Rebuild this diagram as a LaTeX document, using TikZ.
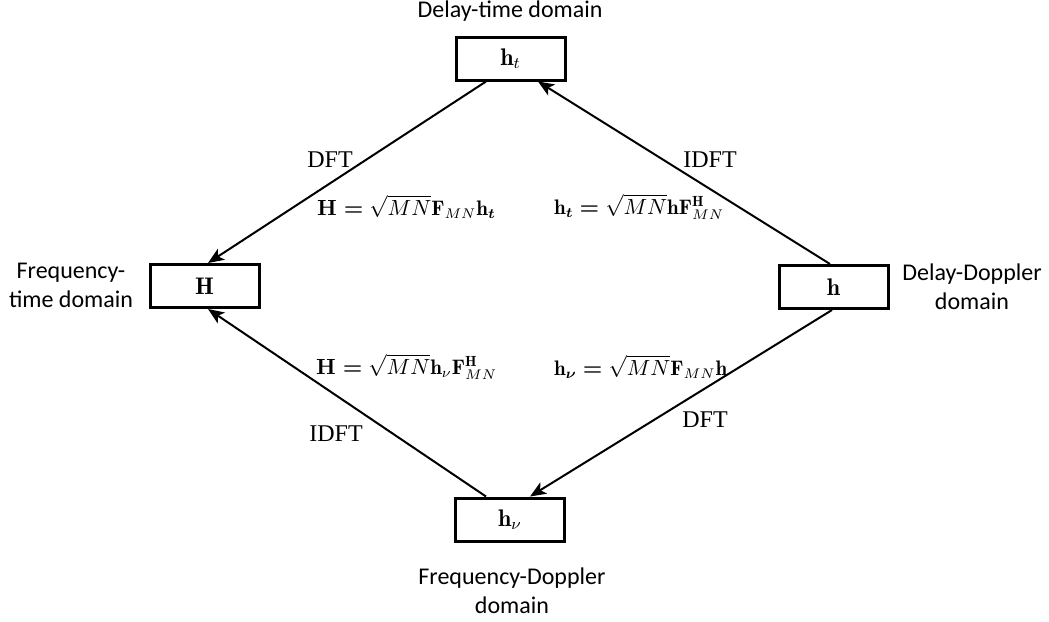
\documentclass[tikz,border=0pt]{standalone}
\usepackage{amsmath}
\usepackage{fontspec}
\setsansfont{Carlito}
\newfontfamily\labelserif{Liberation Serif}
\usetikzlibrary{arrows.meta,calc}

\begin{document}
\begin{tikzpicture}[x=0.5pt,y=-0.5pt,
  domainbox/.style={draw,line width=1.5pt,minimum width=54.5pt,minimum height=21.5pt,
    inner sep=0pt,font=\fontsize{12}{14}\selectfont},
  domainlabel/.style={font=\sffamily\fontsize{12}{14.5}\selectfont,align=center},
  transformlabel/.style={font=\labelserif\fontsize{12}{14}\selectfont},
  relation/.style={anchor=west,font=\fontsize{10.5}{13}\selectfont},
  transfer/.style={line width=1pt,-{Stealth[length=8pt,width=6.5pt,inset=2pt]}}]

\useasboundingbox (0,0) rectangle (1049,621);

% the four domain boxes
\node[domainbox] (ht) at (510.5,58.5) {$\mathbf{h}_t$};
\node[domainbox] (H)  at (204.5,286) {$\mathbf{H}$};
\node[domainbox] (h)  at (833.5,287) {$\mathbf{h}$};
\node[domainbox] (hv) at (510,519.5) {$\mathbf{h}_\nu$};

% domain names
\node[domainlabel] (ltop)    at (510,11)  {Delay-time domain};
\node[domainlabel] (lleft)   at (71,285)  {Frequency-\\time domain};
\node[domainlabel] (lright)  at (972,287) {Delay-Doppler\\domain};
\node[domainlabel] (lbottom) at (512,591) {Frequency-Doppler\\domain};

% transforms between the domains
\draw[transfer] ($(ht.south)+(-24.5,0)$) -- ($(H.north)+(3.5,0)$);
\draw[transfer] ($(h.north)+(-3.5,0)$) -- ($(ht.south)+(27.5,0)$);
\draw[transfer] ($(h.south)+(-1.5,0)$) -- ($(hv.north)+(20,0)$);
\draw[transfer] ($(hv.north)+(-24,0)$) -- ($(H.south)+(3.5,0)$);

% transform names
\node[transformlabel] (t1) at (330,160) {DFT};
\node[transformlabel] (t2) at (710,160) {IDFT};
\node[transformlabel] (t3) at (336,434) {IDFT};
\node[transformlabel] (t4) at (705,420) {DFT};

% relations
\node[relation] (r1) at (310,207) {$\boldsymbol{\mathbf{H}=}\sqrt{MN}\mathbf{F}_{MN}\mathbf{h}_{\boldsymbol{t}}$};
\node[relation] (r2) at (547,207) {$\mathbf{h}_{\boldsymbol{t}}\boldsymbol{=}\sqrt{MN}\mathbf{h}\mathbf{F}_{MN}^{\mathbf{H}}$};
\node[relation] (r3) at (309,367) {$\boldsymbol{\mathbf{H}=}\sqrt{MN}\mathbf{h}_\nu\mathbf{F}_{MN}^{\mathbf{H}}$};
\node[relation] (r4) at (547,367) {$\mathbf{h}_{\boldsymbol{\nu}}\boldsymbol{=}\sqrt{MN}\mathbf{F}_{MN}\mathbf{h}$};

\end{tikzpicture}
\end{document}
